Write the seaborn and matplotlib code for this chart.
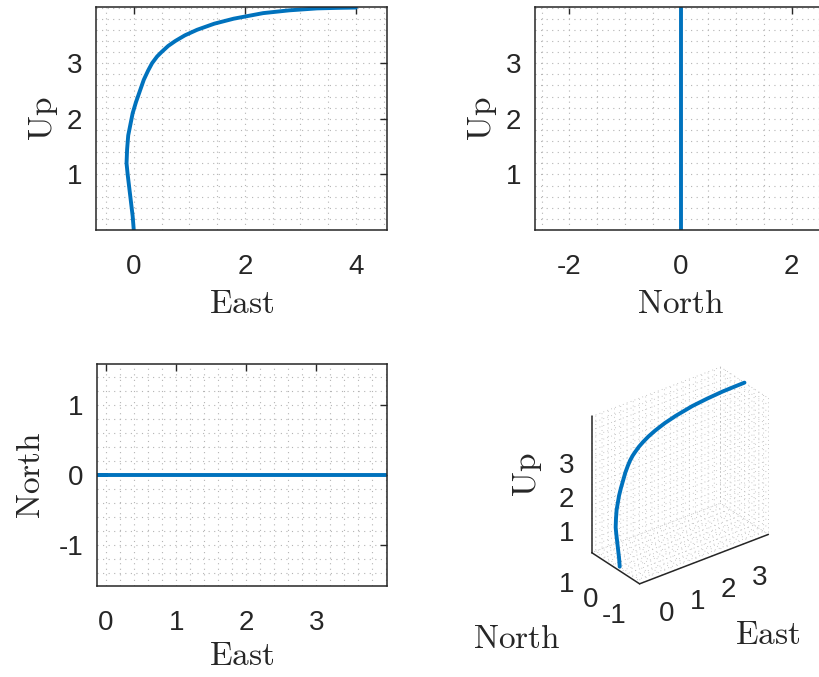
import numpy as np
import pandas as pd
import matplotlib
matplotlib.use("Agg")
import matplotlib.pyplot as plt
import matplotlib.transforms as mtransforms
import seaborn as sns
from matplotlib.ticker import MultipleLocator, FuncFormatter, FixedLocator

# ---- data ----
east = [0.00, -0.02, -0.05, -0.08, -0.11, -0.13, -0.12, -0.10, -0.06, -0.02, 0.04,
        0.11, 0.18, 0.26, 0.33, 0.42, 0.50, 0.62, 0.75, 0.92, 1.14, 1.45, 1.80, 2.33,
        2.80, 3.30, 3.70, 4.00]
up = [0.00, 0.25, 0.50, 0.75, 1.00, 1.20, 1.45, 1.70, 1.90, 2.10, 2.30,
      2.50, 2.70, 2.87, 3.00, 3.12, 3.20, 3.31, 3.40, 3.50, 3.60, 3.71, 3.80, 3.90,
      3.95, 3.985, 3.995, 4.00]
north = [0.0] * len(east)

east_ticks_top = [0, 2, 4]
up_ticks = [1, 2, 3]
north_ticks_top = [-2, 0, 2]
east_ticks_bottom = [0, 1, 2, 3]
north_ticks_left = [-1, 0, 1]
east_ticks_3d = [0, 1, 2, 3]
north_ticks_3d = [-1, 0, 1]
up_ticks_3d = [1, 2, 3]

df = pd.DataFrame({"East": east, "North": north, "Up": up})

sns.set_style("white")
plt.rcParams["font.family"] = ["Liberation Sans", "DejaVu Sans"]
plt.rcParams["mathtext.fontset"] = "cm"
plt.rcParams["axes.unicode_minus"] = False

LINE = "#0072BD"
DARK = "#262626"
GRIDC = "#b4b4b4"
GRID_LS = (0, (1, 4))
LW = 2.8
TICK_FS = 20
LAB_FS = 24

plt.rcParams["grid.color"] = GRIDC
plt.rcParams["grid.linewidth"] = 0.8
plt.rcParams["grid.linestyle"] = ":"

W, H = 819, 677
fig = plt.figure(figsize=(W / 100, H / 100), dpi=100)


def rect(x0, y0, x1, y1):
    return [x0 / W, 1 - y1 / H, (x1 - x0) / W, (y1 - y0) / H]


def style2d(ax, xlim, ylim, xt, yt, xminor, yminor):
    ax.set_xlim(xlim)
    ax.set_ylim(ylim)
    ax.xaxis.set_major_locator(FixedLocator(xt))
    ax.yaxis.set_major_locator(FixedLocator(yt))
    ax.xaxis.set_minor_locator(MultipleLocator(xminor))
    ax.yaxis.set_minor_locator(MultipleLocator(yminor))
    ax.grid(which="both", color=GRIDC, linewidth=0.8, linestyle=GRID_LS)
    ax.set_axisbelow(True)
    ax.tick_params(which="major", direction="in", length=5, width=1,
                   top=True, right=True, labelsize=TICK_FS, colors=DARK)
    ax.tick_params(axis="x", which="major", pad=17)
    ax.tick_params(axis="y", which="major", pad=10)
    ax.tick_params(which="minor", length=0)
    for s in ax.spines.values():
        s.set_color(DARK)
        s.set_linewidth(1.1)
        s.set_visible(True)


# ---- subplot 1: East vs Up ----
ax1 = fig.add_axes(rect(96, 7, 387, 230))
sns.lineplot(data=df, x="East", y="Up", sort=False, estimator=None,
             color=LINE, linewidth=LW, ax=ax1)
style2d(ax1, (-0.68, 4.56), (0, 4.01), east_ticks_top, up_ticks, 0.5, 0.2)
ax1.set_xlabel(r"$\mathrm{East}$", fontsize=LAB_FS, color=DARK, labelpad=7)
ax1.set_ylabel(r"$\mathrm{Up}$", fontsize=LAB_FS, color=DARK, labelpad=5)

# ---- subplot 2: North vs Up ----
ax2 = fig.add_axes(rect(535, 7, 826, 230))
sns.lineplot(data=df, x="North", y="Up", sort=False, estimator=None,
             color=LINE, linewidth=LW, ax=ax2)
style2d(ax2, (-2.62, 2.62), (0, 4.01), north_ticks_top, up_ticks, 0.5, 0.2)
ax2.set_xlabel(r"$\mathrm{North}$", fontsize=LAB_FS, color=DARK, labelpad=7)
ax2.set_ylabel(r"$\mathrm{Up}$", fontsize=LAB_FS, color=DARK, labelpad=5)

# ---- subplot 3: East vs North ----
ax3 = fig.add_axes(rect(97, 364, 387, 586))
sns.lineplot(data=df, x="East", y="North", sort=False, estimator=None,
             color=LINE, linewidth=LW, ax=ax3)
style2d(ax3, (-0.13, 4.01), (-1.59, 1.59), east_ticks_bottom, north_ticks_left, 0.2, 0.2)
ax3.set_xlabel(r"$\mathrm{East}$", fontsize=LAB_FS, color=DARK, labelpad=4)
ax3.set_ylabel(r"$\mathrm{North}$", fontsize=LAB_FS, color=DARK, labelpad=8)

# ---- subplot 4: 3D ----
ax4 = fig.add_axes(rect(534, 347, 819, 611), projection="3d")
ax4.plot(df["East"], df["North"], df["Up"], color=LINE, linewidth=LW)
ax4.set_proj_type("ortho")
ax4.view_init(elev=30, azim=-127.5)
ax4.set_xlim(-0.13, 4.0)
ax4.set_ylim(-1.0, 1.0)
ax4.set_zlim(0, 4.0)
ax4.set_box_aspect((4.13, 2.0, 4.0), zoom=0.88)


def int_fmt(allowed):
    def f(v, pos):
        for a in allowed:
            if abs(v - a) < 1e-6:
                return f"{a:d}"
        return ""
    return FuncFormatter(f)


for axis, allowed in ((ax4.xaxis, east_ticks_3d), (ax4.yaxis, north_ticks_3d),
                      (ax4.zaxis, up_ticks_3d)):
    axis.set_major_locator(MultipleLocator(0.2))
    axis.set_major_formatter(int_fmt(allowed))
    axis.set_pane_color((1, 1, 1, 0))
    axis.pane.set_edgecolor((1, 1, 1, 0))
    axis.line.set_color(DARK)
    axis.line.set_linewidth(1.1)
    axis._axinfo["grid"].update({"color": GRIDC, "linewidth": 0.6, "linestyle": GRID_LS})
    axis._axinfo["tick"]["inward_factor"] = 0.0
    axis._axinfo["tick"]["outward_factor"] = 0.0
ax4.tick_params(labelsize=TICK_FS, colors=DARK, pad=6)
ax4.set_xlabel("")
ax4.set_ylabel("")
ax4.set_zlabel("")


# nudge 3D tick labels toward MATLAB-like placement
def shift_ticklabels(axis, dx, dy):
    off = mtransforms.ScaledTranslation(dx / 100, dy / 100, fig.dpi_scale_trans)
    orig = axis.get_major_ticks

    def patched(numticks=None):
        ticks = orig(numticks)
        for t in ticks:
            for lab in (t.label1, t.label2):
                lab.set_transform(ax4.transData + off)
        return ticks

    axis.get_major_ticks = patched


shift_ticklabels(ax4.xaxis, 16, 5)
shift_ticklabels(ax4.yaxis, -7, 7)

fig.text(517 / W, 1 - 640 / H, r"$\mathrm{North}$", fontsize=LAB_FS, color=DARK,
         ha="center", va="center")
fig.text(768 / W, 1 - 636 / H, r"$\mathrm{East}$", fontsize=LAB_FS, color=DARK,
         ha="center", va="center")
fig.text(527 / W, 1 - 475 / H, r"$\mathrm{Up}$", fontsize=LAB_FS, color=DARK,
         ha="center", va="center", rotation=90)

fig.savefig("out.png", dpi=100)
